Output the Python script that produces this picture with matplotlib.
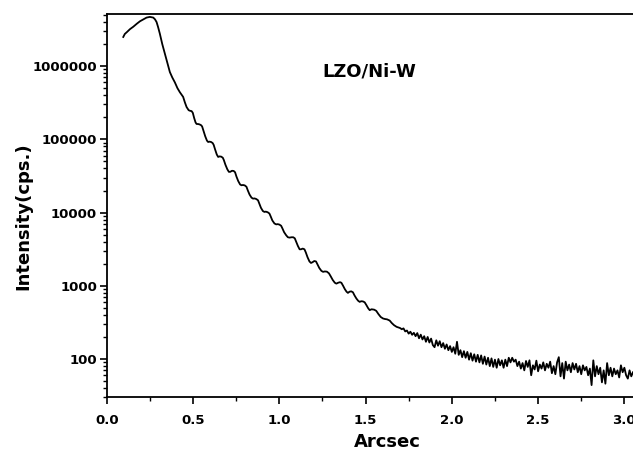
import numpy as np
import matplotlib
matplotlib.use("Agg")
import matplotlib.pyplot as plt
from matplotlib.ticker import FixedLocator, FixedFormatter, LogLocator, NullFormatter

# ---- data ----
x_main = [0.096, 0.105, 0.116, 0.135, 0.154, 0.175, 0.193, 0.212, 0.231, 0.25, 0.27, 0.28,
          0.289, 0.298, 0.308, 0.322, 0.337, 0.352, 0.366, 0.38, 0.395, 0.41, 0.424, 0.433,
          0.443, 0.453, 0.463, 0.475, 0.484, 0.492, 0.499, 0.507, 0.515, 0.521, 0.529, 0.538,
          0.547, 0.553, 0.561, 0.571, 0.581, 0.588, 0.596, 0.605, 0.614, 0.62, 0.628, 0.638,
          0.646, 0.654, 0.664, 0.673, 0.679, 0.688, 0.699, 0.708, 0.716, 0.726, 0.736, 0.744,
          0.752, 0.762, 0.773, 0.781, 0.79, 0.8, 0.81, 0.818, 0.828, 0.839, 0.848, 0.857,
          0.867, 0.877, 0.884, 0.894, 0.905, 0.914, 0.922, 0.933, 0.943, 0.95, 0.96, 0.972,
          0.982, 0.991, 1.001, 1.011, 1.018, 1.028, 1.04, 1.05, 1.06, 1.071, 1.081, 1.09,
          1.098, 1.108, 1.118, 1.126, 1.136, 1.146, 1.154, 1.164, 1.175, 1.184, 1.193, 1.203,
          1.213, 1.222, 1.232, 1.244, 1.254, 1.264, 1.276, 1.288, 1.298, 1.31, 1.322, 1.331,
          1.341, 1.352, 1.36, 1.37, 1.38, 1.39, 1.398, 1.407, 1.417, 1.427, 1.436, 1.447,
          1.457, 1.466, 1.475, 1.485, 1.495, 1.505, 1.515, 1.524, 1.535, 1.55, 1.562, 1.575,
          1.588, 1.601, 1.612, 1.625, 1.64, 1.652, 1.665, 1.68, 1.69]
y_main = [2.5e6, 2.75e6, 2.9e6, 3.2e6, 3.45e6, 3.8e6, 4.1e6, 4.35e6, 4.6e6, 4.7e6, 4.6e6, 4.35e6,
          4.0e6, 3.4e6, 2.77e6, 2.0e6, 1.48e6, 1.1e6, 8.3e5, 7.0e5, 6.0e5, 5.0e5, 4.4e5, 4.1e5,
          3.8e5, 3.2e5, 2.76e5, 2.5e5, 2.45e5, 2.43e5, 2.3e5, 1.95e5, 1.7e5, 1.62e5, 1.62e5, 1.6e5,
          1.56e5, 1.5e5, 1.3e5, 1.1e5, 9.6e4, 9.2e4, 9.3e4, 9.2e4, 8.9e4, 8.4e4, 7.3e4, 6.2e4,
          5.75e4, 5.85e4, 5.8e4, 5.6e4, 5.2e4, 4.5e4, 3.9e4, 3.6e4, 3.6e4, 3.72e4, 3.7e4, 3.55e4,
          3.1e4, 2.7e4, 2.42e4, 2.36e4, 2.38e4, 2.35e4, 2.25e4, 2.0e4, 1.76e4, 1.6e4, 1.55e4, 1.56e4,
          1.53e4, 1.47e4, 1.33e4, 1.16e4, 1.05e4, 1.02e4, 1.03e4, 1.01e4, 9.7e3, 8.9e3, 7.8e3, 7.1e3,
          6.9e3, 6.95e3, 6.85e3, 6.6e3, 6.1e3, 5.4e3, 4.9e3, 4.6e3, 4.55e3, 4.6e3, 4.6e3, 4.45e3,
          4.0e3, 3.5e3, 3.15e3, 3.15e3, 3.22e3, 3.15e3, 2.85e3, 2.45e3, 2.15e3, 2.05e3, 2.1e3, 2.18e3,
          2.15e3, 1.95e3, 1.75e3, 1.6e3, 1.55e3, 1.57e3, 1.56e3, 1.48e3, 1.35e3, 1.2e3, 1.1e3, 1.07e3,
          1.1e3, 1.12e3, 1.1e3, 1.0e3, 900, 830, 800, 830, 840, 815, 740, 670,
          625, 603, 615, 612, 595, 545, 495, 465, 478, 472, 455, 410,
          375, 358, 352, 348, 335, 310, 290, 275, 270]

x_tail_start = 1.70
x_tail_step = 0.01
y_tail = [265, 255, 262, 238, 245, 222, 236, 214, 228, 205,
          226, 192, 215, 185, 205, 172, 200, 168, 190, 155,
          145, 180, 152, 175, 145, 165, 138, 158, 132, 150,
          125, 145, 118, 172, 114, 132, 106, 128, 104, 125,
          98, 120, 95, 116, 92, 114, 90, 112, 86, 108,
          84, 104, 80, 102, 78, 98, 76, 100, 82, 96,
          76, 98, 80, 104, 90, 104, 92, 98, 80, 92,
          74, 88, 70, 94, 78, 96, 60, 82, 72, 95,
          68, 84, 74, 90, 70, 86, 76, 92, 64, 80,
          62, 90, 106, 58, 88, 54, 92, 70, 84, 66,
          88, 72, 86, 66, 80, 62, 82, 70, 78, 60,
          74, 44, 96, 58, 80, 62, 76, 48, 70, 46,
          88, 60, 76, 58, 74, 62, 70, 56, 82, 66,
          76, 60, 54, 70, 58, 66]

y_ticks = [100, 1000, 10000, 100000, 1000000]
y_ticklabels = ["100", "1000", "10000", "100000", "1000000"]
x_ticks = [0.0, 0.5, 1.0, 1.5, 2.0, 2.5, 3.0]
x_ticklabels = ["0.0", "0.5", "1.0", "1.5", "2.0", "2.5", "3.0"]
x_minor_ticks = [0.25, 0.75, 1.25, 1.75, 2.25, 2.75]

x_tail = [round(x_tail_start + i * x_tail_step, 3) for i in range(len(y_tail))]
x_all = x_main + x_tail
y_all = y_main + y_tail

plt.rcParams['font.family'] = ['DejaVu Sans']
fig = plt.figure(figsize=(6.33, 4.5), dpi=100)
ax = fig.add_axes([106.7 / 633, (450 - 397.3) / 450, (633 - 106.7) / 633, (397.3 - 14) / 450])

ax.plot(x_all, y_all, color='black', lw=1.3, solid_joinstyle='round')
ax.set_yscale('log')
ax.set_xlim(0, 3.05)
ax.set_ylim(30, 5.15e6)

ax.yaxis.set_major_locator(FixedLocator(y_ticks))
ax.yaxis.set_major_formatter(FixedFormatter(y_ticklabels))
ax.yaxis.set_minor_locator(LogLocator(base=10, subs=np.arange(2, 10)))
ax.yaxis.set_minor_formatter(NullFormatter())
ax.xaxis.set_major_locator(FixedLocator(x_ticks))
ax.xaxis.set_major_formatter(FixedFormatter(x_ticklabels))
ax.xaxis.set_minor_locator(FixedLocator(x_minor_ticks))

for s in ['left', 'bottom', 'top']:
    ax.spines[s].set_linewidth(1.3)
ax.spines['right'].set_visible(False)

ax.tick_params(axis='both', which='major', direction='out', length=5, width=1.2,
               labelsize=9.5, pad=2)
ax.tick_params(axis='both', which='minor', direction='out', length=3, width=1.0)
ax.tick_params(axis='x', which='major', pad=7)
ax.tick_params(top=False, right=False, which='both')
for lab in ax.get_xticklabels() + ax.get_yticklabels():
    lab.set_fontweight('bold')

ax.set_xlabel('Arcsec', fontsize=13, fontweight='bold')
ax.set_ylabel('Intensity(cps.)', fontsize=13, fontweight='bold')
ax.xaxis.set_label_coords((387 - 106.7) / 526.3, (397.3 - 433) / 383.3)
ax.yaxis.set_label_coords((32 - 106.7) / 526.3, (397.3 - 216) / 383.3)

ax.text(1.248, 7.2e5, 'LZO/Ni-W', fontsize=13, fontweight='bold', ha='left', va='baseline')

fig.savefig('out.png', dpi=100)
